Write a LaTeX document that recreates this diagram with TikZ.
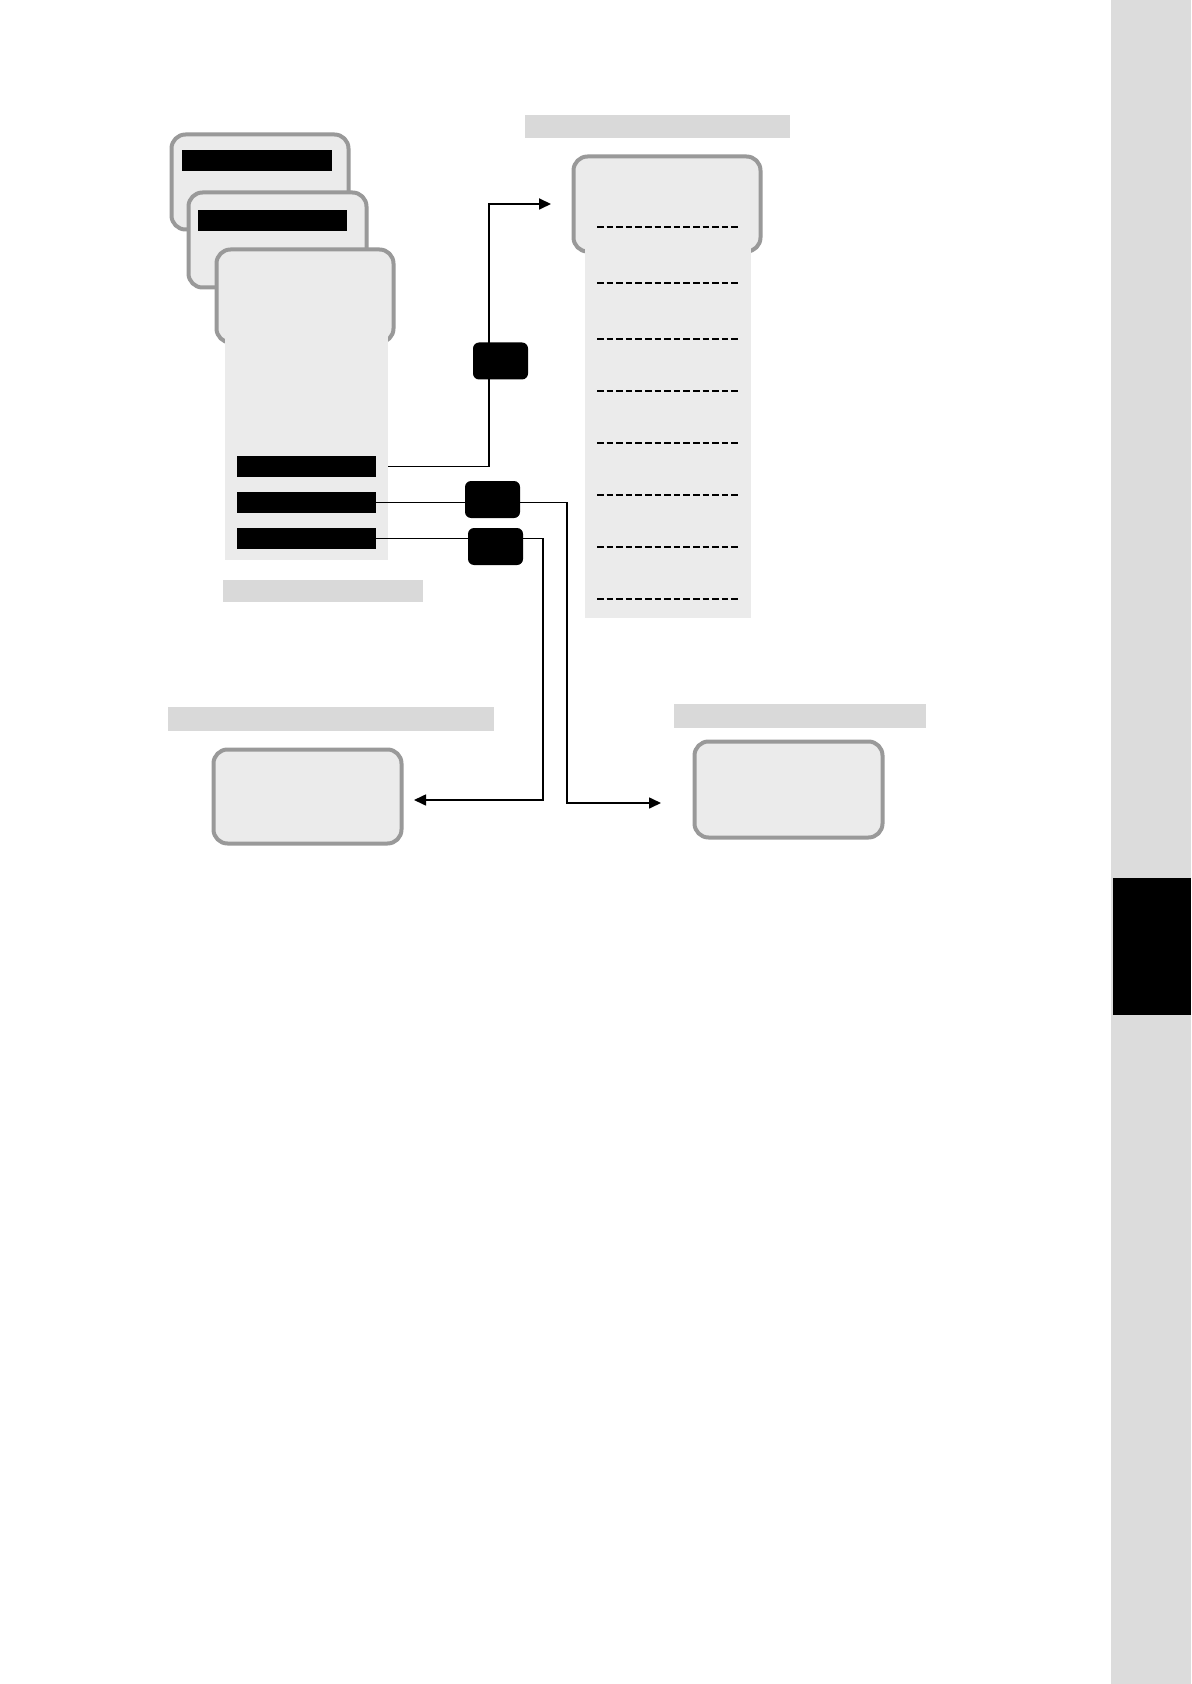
\documentclass[tikz,border=0pt]{standalone}
\usetikzlibrary{arrows.meta}
\definecolor{cardfill}{HTML}{EBEBEB}
\definecolor{cardborder}{HTML}{999999}
\definecolor{capgray}{HTML}{D9D9D9}
\definecolor{sidegray}{HTML}{DCDCDC}
\begin{document}
\begin{tikzpicture}[x=0.5pt,y=-0.5pt,
  card/.style={draw=cardborder, line width=2pt, fill=cardfill, rounded corners=7pt, inner sep=0pt},
  cardbody/.style={fill=cardfill, inner sep=0pt},
  caption/.style={fill=capgray, inner sep=0pt},
  blackbar/.style={fill=black, inner sep=0pt, minimum width=69.5pt, minimum height=10.5pt},
  lab/.style={fill=black, rounded corners=3pt, inner sep=0pt, minimum width=27.5pt, minimum height=18.5pt},
  conn/.style={line width=0.8pt, -{Triangle[length=6pt,width=5.5pt]}},
  dline/.style={line width=1.15pt, dash pattern=on 3.3pt off 1.5pt}
]
\useasboundingbox[fill=white] (0,0) rectangle (1191,1684);
% side strip
\node[fill=sidegray, inner sep=0pt, minimum width=40pt, minimum height=842pt] (side) at (1151,842) {};
\node[fill=black, inner sep=0pt, minimum width=39pt, minimum height=68.5pt] (tab) at (1152,946.5) {};

% stacked cards (left)
\node[card, minimum width=88.5pt, minimum height=47.5pt] (card1) at (260,182) {};
\node[fill=black, inner sep=0pt, minimum width=75pt, minimum height=10.5pt] (title1) at (257,160.5) {};
\node[card, minimum width=89pt, minimum height=47.5pt] (card2) at (277.5,240) {};
\node[fill=black, inner sep=0pt, minimum width=74.5pt, minimum height=10.5pt] (title2) at (272.5,220.5) {};
\node[card, minimum width=88.5pt, minimum height=46.5pt] (head3) at (305,296) {};
\node[cardbody, minimum width=81.5pt, minimum height=117.5pt] (body3) at (306.5,442.5) {};
\node[blackbar] (bar1) at (306.5,466.5) {};
\node[blackbar] (bar2) at (306.5,502.5) {};
\node[blackbar] (bar3) at (306.5,538.5) {};
\node[caption, minimum width=100pt, minimum height=11pt] (capL) at (323,591) {};

% right card with list
\node[caption, minimum width=132.5pt, minimum height=11.5pt] (capR) at (657.5,126.5) {};
\node[card, minimum width=93.5pt, minimum height=47.5pt] (rhead) at (667,204) {};
\node[cardbody, minimum width=83pt, minimum height=191.5pt] (rbody) at (668,426.5) {};
\foreach \yy/\nm in {227/d1,283/d2,339/d3,391/d4,443/d5,495/d6,547/d7,599/d8}{
  \coordinate (\nm a) at (597,\yy);
  \coordinate (\nm b) at (740,\yy);
  \draw[dline] (\nm a) -- (\nm b);
}

% bottom cards
\node[caption, minimum width=163pt, minimum height=12pt] (capBL) at (331,719) {};
\node[card, minimum width=94pt, minimum height=47pt] (cardBL) at (307.5,796.5) {};
\node[caption, minimum width=126pt, minimum height=12pt] (capBR) at (800,716) {};
\node[card, minimum width=94pt, minimum height=48pt] (cardBR) at (788.5,789.5) {};

% connectors
\coordinate (k1) at (489,204);
\coordinate (tip1) at (551,204);
\coordinate (k2) at (567,803);
\coordinate (tip2) at (661,803);
\coordinate (k3) at (543,800);
\coordinate (tip3) at (414,800);
\draw[conn, line width=0.9pt] (bar1.east -| body3.east) -| (k1) -- (tip1);
\draw[conn] (bar2.east) -| (k2) -- (tip2);
\draw[conn] (bar3.east) -| (k3) -- (tip3);

% labels
\node[lab] (lab1) at (500.5,361) {};
\node[lab] (lab2) at (492.5,499.5) {};
\node[lab] (lab3) at (495.5,546.5) {};
\end{tikzpicture}
\end{document}
